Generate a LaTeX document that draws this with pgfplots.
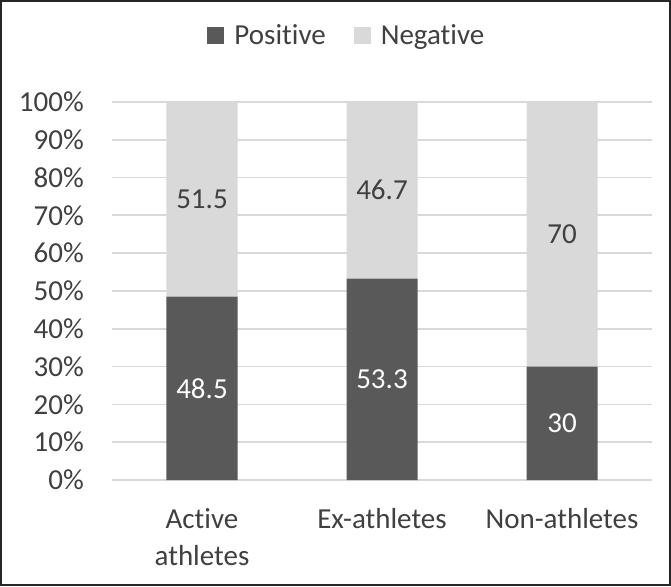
\documentclass[border=0pt]{standalone}
\usepackage{fontspec}
\setmainfont{Carlito}[Ligatures=NoCommon]
\usepackage{pgfplots}
\pgfplotsset{compat=1.18}
\definecolor{posc}{HTML}{595959}
\definecolor{negc}{HTML}{D9D9D9}
\definecolor{gridc}{HTML}{D9D9D9}
\definecolor{txt}{HTML}{404040}
\definecolor{framec}{HTML}{262626}
\begin{document}
\begin{tikzpicture}
\begin{axis}[
  scale only axis,
  width=540pt, height=378pt,
  ybar stacked,
  bar width=71pt,
  xmin=-0.5, xmax=2.5,
  ymin=0, ymax=100,
  axis line style={draw=none},
  major tick length=0pt,
  ymajorgrids,
  grid style={gridc, line width=1.8pt},
  ytick={0,10,20,30,40,50,60,70,80,90,100},
  yticklabels={0\%,10\%,20\%,30\%,40\%,50\%,60\%,70\%,80\%,90\%,100\%},
  yticklabel style={font=\fontsize{29}{35}\selectfont, text=txt, inner sep=0pt, xshift=-28pt},
  xtick={0,1,2},
  xticklabels={Active\\athletes, Ex-athletes, Non-athletes},
  xticklabel style={font=\fontsize{29}{37}\selectfont, text=txt, align=center, inner sep=0pt, yshift=-28pt},
  legend style={draw=none, fill=none, at={(rel axis cs:0.435,1.177)}, anchor=center,
    font=\fontsize{29}{35}\selectfont, text=txt,
    /tikz/every odd column/.append style={column sep=8pt},
    /tikz/every even column/.append style={column sep=26pt}},
  legend columns=2,
  legend image code/.code={\fill[#1] (0pt,-8.5pt) rectangle (17pt,8.5pt);},
  nodes near coords,
  point meta=explicit symbolic,
]
\addplot[fill=posc, draw=none,
  every node near coord/.append style={text=white, font=\fontsize{29}{35}\selectfont}]
  coordinates {(0,48.5) [48.5] (1,53.3) [53.3] (2,30) [30]};
\addplot[fill=negc, draw=none,
  every node near coord/.append style={text=txt, font=\fontsize{29}{35}\selectfont}]
  coordinates {(0,51.5) [51.5] (1,46.7) [46.7] (2,70) [70]};
\legend{Positive, Negative}
\coordinate (sw) at (rel axis cs:0,0);
\coordinate (ne) at (rel axis cs:1,1);
\end{axis}
\pgfresetboundingbox
\path[use as bounding box] ([shift={(-112pt,-106pt)}]sw) rectangle ([shift={(19pt,102pt)}]ne);
\draw[framec, line width=2.5pt] ([shift={(-110.75pt,-104.75pt)}]sw) rectangle ([shift={(17.75pt,100.75pt)}]ne);
\end{tikzpicture}
\end{document}
